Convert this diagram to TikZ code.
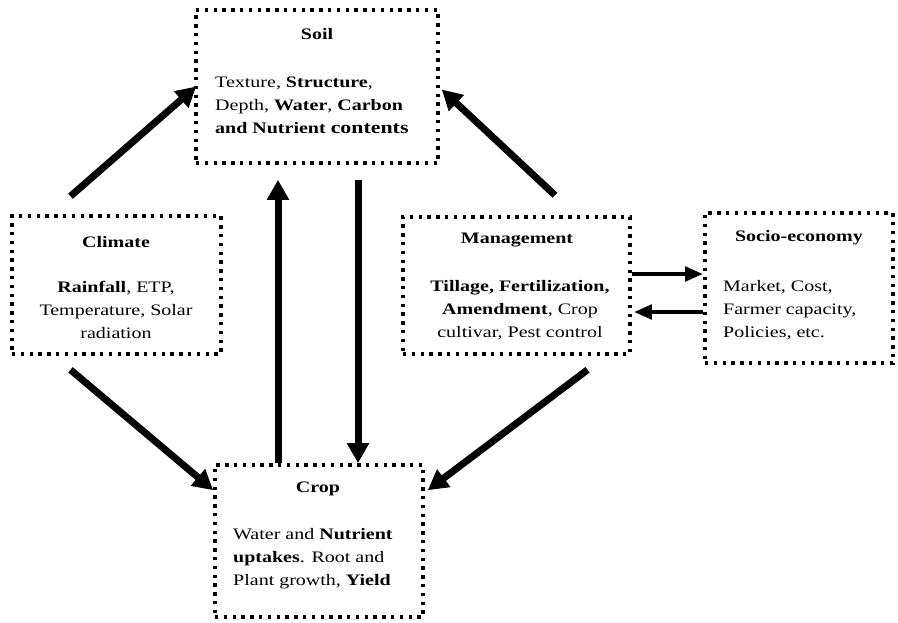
\documentclass[tikz,border=0pt]{standalone}
\usepackage{fontspec}
\setmainfont[FakeStretch=1.25]{Liberation Serif}
\usetikzlibrary{arrows.meta}
\tikzset{
  dotbox/.style={draw=black, line width=3.6pt, dash pattern=on 3.4pt off 5.4pt, inner sep=0pt},
  ttl/.style={font=\fontsize{16}{23}\selectfont\bfseries, inner sep=0pt},
  body/.style={font=\fontsize{16}{23}\selectfont, inner sep=0pt},
  bigarr/.style={line width=7pt, -{Triangle[length=20pt,width=21pt]}},
  smallarr/.style={line width=4.5pt, -{Triangle[length=18pt,width=14pt]}},
}
\begin{document}
\begin{tikzpicture}[x=1pt,y=-1pt]
\useasboundingbox (0,0) rectangle (898,622);
% boxes
\node[dotbox, minimum width=242pt, minimum height=153pt] (soil) at (317,86.5) {};
\node[dotbox, minimum width=209pt, minimum height=138pt] (climate) at (116.5,285) {};
\node[dotbox, minimum width=227pt, minimum height=137pt] (mgmt) at (516.5,285.5) {};
\node[dotbox, minimum width=188pt, minimum height=150pt] (socio) at (799,288) {};
\node[dotbox, minimum width=208pt, minimum height=152pt] (crop) at (319,541) {};
% texts
\node[ttl] (soilt) at (317,34) {Soil};
\node[body, anchor=west, align=left] (soilb) at (215,105) {Texture, \textbf{Structure},\\Depth, \textbf{Water}, \textbf{Carbon}\\\textbf{and Nutrient {\fontsize{17.5}{23}\selectfont contents}}};
\node[ttl] (climt) at (116,242) {Climate};
\node[body, align=center] (climb) at (116,310) {\textbf{Rainfall}, ETP,\\Temperature, Solar\\radiation};
\node[ttl] (mgmtt) at (517,240) {Management};
\node[body, align=center] (mgmtb) at (520,310) {\textbf{Tillage, Fertilization,}\\\textbf{Amendment}, Crop\\cultivar, Pest control};
\node[ttl] (sociot) at (799,238) {Socio-economy};
\node[body, anchor=west, align=left] (sociob) at (723,310) {Market, Cost,\\Farmer capacity,\\Policies, etc.};
\node[ttl] (cropt) at (318,489) {Crop};
\node[body, anchor=west, align=left] (cropb) at (233,559) {Water and \textbf{Nutrient}\\\textbf{uptakes}. Root and\\Plant growth, \textbf{Yield}};
% arrows
\draw[bigarr] ([xshift=-46pt,yshift=18pt]climate.north) -- ([xshift=2pt]soil.west);
\draw[bigarr] ([xshift=38.5pt,yshift=20pt]mgmt.north) -- ([xshift=2pt,yshift=-3pt]soil.east);
\draw[bigarr] ([xshift=-41pt]crop.north) -- ([xshift=-41pt,yshift=-15pt]crop.north |- soil.south);
\draw[bigarr] ([xshift=41pt,yshift=-15pt]soil.south) -- ([xshift=41pt]soil.south |- crop.north);
\draw[bigarr] ([xshift=-46pt,yshift=-14pt]climate.south) -- ([yshift=-27pt]crop.north west);
\draw[bigarr] ([xshift=71pt,yshift=-14pt]mgmt.south) -- ([xshift=3pt,yshift=-27pt]crop.north east);
\draw[smallarr] ([yshift=11.5pt]mgmt.east) -- ([yshift=11.5pt]mgmt.east -| socio.west);
\draw[smallarr] ([yshift=-26.5pt]mgmt.east -| socio.west) -- ([yshift=-26.5pt,xshift=2pt]mgmt.east);
\end{tikzpicture}
\end{document}
